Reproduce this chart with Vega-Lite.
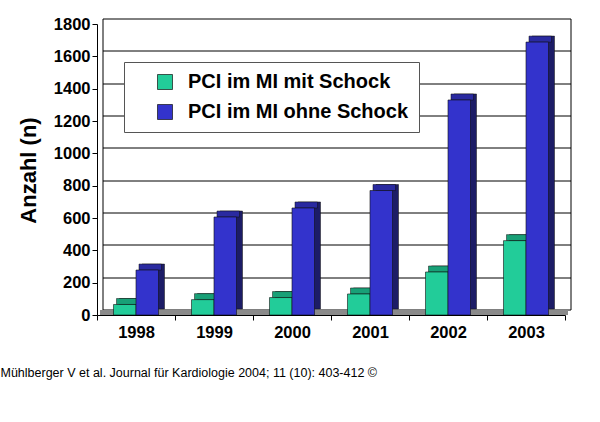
{
  "$schema": "https://vega.github.io/schema/vega-lite/v6.json",
  "width": 468,
  "height": 291,
  "autosize": "none",
  "padding": {"left": 97, "top": 24, "right": 35, "bottom": 107},
  "background": "white",
  "data": {
    "values": [
      {"year": "1998", "series": "PCI im MI mit Schock", "value": 65},
      {"year": "1998", "series": "PCI im MI ohne Schock", "value": 278},
      {"year": "1999", "series": "PCI im MI mit Schock", "value": 95},
      {"year": "1999", "series": "PCI im MI ohne Schock", "value": 606},
      {"year": "2000", "series": "PCI im MI mit Schock", "value": 108},
      {"year": "2000", "series": "PCI im MI ohne Schock", "value": 662},
      {"year": "2001", "series": "PCI im MI mit Schock", "value": 130},
      {"year": "2001", "series": "PCI im MI ohne Schock", "value": 770},
      {"year": "2002", "series": "PCI im MI mit Schock", "value": 266},
      {"year": "2002", "series": "PCI im MI ohne Schock", "value": 1330},
      {"year": "2003", "series": "PCI im MI mit Schock", "value": 460},
      {"year": "2003", "series": "PCI im MI ohne Schock", "value": 1688}
    ]
  },
  "layer": [
    {
      "mark": {"type": "bar", "color": "#8a8a8a", "yOffset": -5, "width": {"band": 1}, "xOffset": 3},
      "encoding": {
        "x": {"field": "year", "type": "nominal", "scale": {"paddingInner": 0, "paddingOuter": 0}, "axis": null},
        "y": {
          "datum": 0,
          "type": "quantitative",
          "scale": {"domain": [0, 1800]},
          "axis": {
            "orient": "left",
            "grid": true,
            "gridColor": "#000",
            "gridWidth": 1,
            "domain": false,
            "ticks": false,
            "labels": false,
            "title": null,
            "translate": 6,
            "tickOffset": -11,
            "values": [0, 200, 400, 600, 800, 1000, 1200, 1400, 1600, 1800],
            "zindex": 0
          }
        },
        "y2": {"datum": 0}
      }
    },
    {
      "transform": [{"filter": "datum.series === 'PCI im MI ohne Schock'"}],
      "mark": {"type": "bar", "width": {"band": 0.2885}, "xOffset": 17.25, "yOffset": -6, "y2Offset": -6, "color": "#1c1c66", "stroke": "#111", "strokeWidth": 0.5},
      "encoding": {
        "x": {"field": "year", "type": "nominal", "axis": null},
        "y": {
          "field": "value",
          "type": "quantitative",
          "axis": {
            "orient": "left",
            "offset": -11,
            "translate": -5,
            "grid": false,
            "ticks": false,
            "labels": false,
            "title": null,
            "domainColor": "#000",
            "zindex": 0
          }
        }
      }
    },
    {
      "transform": [{"filter": "datum.series === 'PCI im MI ohne Schock'"}],
      "mark": {"type": "bar", "width": {"band": 0.2885}, "xOffset": 14.25, "yOffset": -6, "y2Offset": 0, "color": "#2a2aa0", "stroke": "#111", "strokeWidth": 0.5},
      "encoding": {
        "x": {"field": "year", "type": "nominal", "axis": null},
        "y": {
          "field": "value",
          "type": "quantitative",
          "axis": {
            "orient": "right",
            "offset": 11,
            "translate": -5,
            "grid": false,
            "ticks": false,
            "labels": false,
            "title": null,
            "domainColor": "#000",
            "zindex": 0
          }
        },
        "y2": {"field": "value"}
      }
    },
    {
      "transform": [{"filter": "datum.series === 'PCI im MI mit Schock'"}],
      "mark": {"type": "bar", "width": {"band": 0.2885}, "xOffset": -5.25, "yOffset": -6, "y2Offset": -6, "color": "#0f6e52", "stroke": "#111", "strokeWidth": 0.5},
      "encoding": {
        "x": {"field": "year", "type": "nominal", "axis": null},
        "y": {"field": "value", "type": "quantitative", "axis": null}
      }
    },
    {
      "transform": [{"filter": "datum.series === 'PCI im MI mit Schock'"}],
      "mark": {"type": "bar", "width": {"band": 0.2885}, "xOffset": -8.25, "yOffset": -6, "y2Offset": 0, "color": "#18a077", "stroke": "#111", "strokeWidth": 0.5},
      "encoding": {
        "x": {"field": "year", "type": "nominal", "axis": null},
        "y": {"field": "value", "type": "quantitative", "axis": null},
        "y2": {"field": "value"}
      }
    },
    {
      "transform": [{"filter": "datum.series === 'PCI im MI mit Schock'"}],
      "mark": {"type": "bar", "width": {"band": 0.2885}, "xOffset": -11.25, "stroke": "#111", "strokeWidth": 0.6},
      "encoding": {
        "x": {"field": "year", "type": "nominal", "axis": null},
        "y": {"field": "value", "type": "quantitative", "axis": null},
        "color": {
          "field": "series",
          "type": "nominal",
          "scale": {
            "domain": ["PCI im MI mit Schock", "PCI im MI ohne Schock"],
            "range": ["#22cc99", "#3333cc"]
          },
          "legend": {
            "orient": "none",
            "legendX": 27,
            "legendY": 38,
            "title": null,
            "fillColor": "#fff",
            "strokeColor": "#555",
            "padding": 10,
            "symbolType": "square",
            "symbolSize": 225,
            "symbolStrokeColor": "#000",
            "symbolStrokeWidth": 0.7,
            "symbolOffset": 21,
            "labelOffset": 13,
            "labelFont": "Liberation Sans",
            "labelFontSize": 20,
            "labelFontWeight": "bold",
            "labelColor": "#000",
            "labelLimit": 400,
            "rowPadding": 10
          }
        }
      }
    },
    {
      "transform": [{"filter": "datum.series === 'PCI im MI ohne Schock'"}],
      "mark": {"type": "bar", "width": {"band": 0.2885}, "xOffset": 11.25, "stroke": "#111", "strokeWidth": 0.6},
      "encoding": {
        "x": {
          "field": "year",
          "type": "nominal",
          "axis": {
            "title": "Mühlberger V et al. Journal für Kardiologie 2004; 11 (10): 403-412 ©",
            "titleX": -97,
            "titleY": 57,
            "titleAlign": "left",
            "titleAnchor": "start",
            "titleBaseline": "middle",
            "titleFont": "Liberation Sans",
            "titleFontSize": 12.5,
            "titleFontWeight": "normal",
            "titleColor": "#000",
            "labelAngle": 0,
            "labelFont": "Liberation Sans",
            "labelFontSize": 16.5,
            "labelFontWeight": "bold",
            "labelColor": "#000",
            "labelPadding": 4,
            "tickBand": "extent",
            "tickColor": "#000",
            "tickSize": 5,
            "domainColor": "#000",
            "zindex": 1
          }
        },
        "y": {
          "field": "value",
          "type": "quantitative",
          "axis": {
            "orient": "left",
            "values": [0, 200, 400, 600, 800, 1000, 1200, 1400, 1600, 1800],
            "format": "d",
            "grid": false,
            "domainColor": "#000",
            "tickColor": "#000",
            "tickSize": 5,
            "labelPadding": 2,
            "labelFont": "Liberation Sans",
            "labelFontSize": 16.5,
            "labelFontWeight": "bold",
            "labelColor": "#000",
            "title": "Anzahl (n)",
            "titleFont": "Liberation Sans",
            "titleFontSize": 22,
            "titleFontWeight": "bold",
            "titleColor": "#000",
            "titleAngle": 270,
            "titleX": -69,
            "titleY": 146,
            "titleAlign": "center",
            "titleBaseline": "middle",
            "zindex": 1
          }
        },
        "color": {"field": "series", "type": "nominal"}
      }
    }
  ],
  "resolve": {"axis": {"x": "independent", "y": "independent"}},
  "config": {
    "view": {"stroke": null},
    "font": "Liberation Sans"
  }
}
